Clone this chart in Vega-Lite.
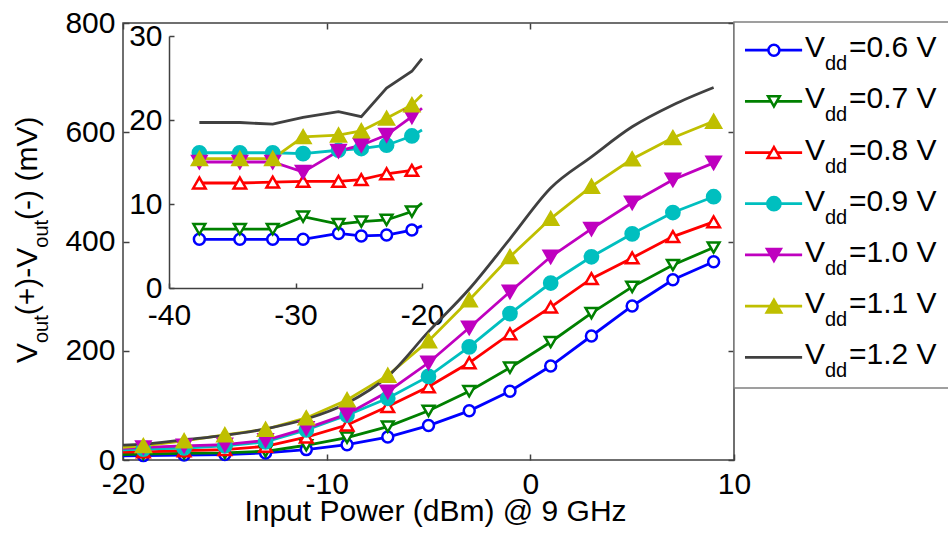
{
  "$schema": "https://vega.github.io/schema/vega-lite/v6.json",
  "width": 611,
  "height": 437,
  "autosize": {"type": "none"},
  "padding": {"left": 123, "top": 23, "right": 214, "bottom": 77},
  "config": {
    "view": {"stroke": "#404040", "strokeWidth": 1.5},
    "font": "Liberation Sans",
    "legend": {"disable": true},
    "axis": {
      "grid": false, "labelFont": "Liberation Sans", "labelFontSize": 30, "labelColor": "#000000",
      "tickColor": "#404040", "domainColor": "#404040", "tickWidth": 1.5, "domainWidth": 1.5,
      "titleFont": "Liberation Sans", "titleFontSize": 30, "titleFontWeight": "normal", "titleColor": "#000000",
      "labelFlush": false, "labelOverlap": false
    }
  },
  "datasets": {
    "d": [
      {"vdd": 0.6, "x": -37.6, "y": 5.8}, {"vdd": 0.6, "x": -34.4, "y": 5.8}, {"vdd": 0.6, "x": -31.8, "y": 5.8}, {"vdd": 0.6, "x": -29.4, "y": 5.8}, {"vdd": 0.6, "x": -26.6, "y": 6.5}, {"vdd": 0.6, "x": -24.8, "y": 6.2}, {"vdd": 0.6, "x": -22.8, "y": 6.3}, {"vdd": 0.6, "x": -20.8, "y": 6.9}, {"vdd": 0.6, "x": -20, "y": 7.4},
      {"vdd": 0.6, "x": -19, "y": 8}, {"vdd": 0.6, "x": -17, "y": 9}, {"vdd": 0.6, "x": -15, "y": 10}, {"vdd": 0.6, "x": -13, "y": 13}, {"vdd": 0.6, "x": -11, "y": 19}, {"vdd": 0.6, "x": -9, "y": 28}, {"vdd": 0.6, "x": -7, "y": 42}, {"vdd": 0.6, "x": -5, "y": 63}, {"vdd": 0.6, "x": -3, "y": 90}, {"vdd": 0.6, "x": -1, "y": 126}, {"vdd": 0.6, "x": 1, "y": 172}, {"vdd": 0.6, "x": 3, "y": 227}, {"vdd": 0.6, "x": 5, "y": 282}, {"vdd": 0.6, "x": 7, "y": 330}, {"vdd": 0.6, "x": 9, "y": 363},
      {"vdd": 0.7, "x": -37.6, "y": 7.0}, {"vdd": 0.7, "x": -34.4, "y": 7.0}, {"vdd": 0.7, "x": -31.8, "y": 7.0}, {"vdd": 0.7, "x": -29.4, "y": 8.5}, {"vdd": 0.7, "x": -26.6, "y": 7.6}, {"vdd": 0.7, "x": -24.8, "y": 7.9}, {"vdd": 0.7, "x": -22.8, "y": 8.1}, {"vdd": 0.7, "x": -20.8, "y": 9.1}, {"vdd": 0.7, "x": -20, "y": 10.1},
      {"vdd": 0.7, "x": -19, "y": 11}, {"vdd": 0.7, "x": -17, "y": 12}, {"vdd": 0.7, "x": -15, "y": 13}, {"vdd": 0.7, "x": -13, "y": 16}, {"vdd": 0.7, "x": -11, "y": 27}, {"vdd": 0.7, "x": -9, "y": 41}, {"vdd": 0.7, "x": -7, "y": 61}, {"vdd": 0.7, "x": -5, "y": 90}, {"vdd": 0.7, "x": -3, "y": 126}, {"vdd": 0.7, "x": -1, "y": 169}, {"vdd": 0.7, "x": 1, "y": 216}, {"vdd": 0.7, "x": 3, "y": 269}, {"vdd": 0.7, "x": 5, "y": 317}, {"vdd": 0.7, "x": 7, "y": 357}, {"vdd": 0.7, "x": 9, "y": 389},
      {"vdd": 0.8, "x": -37.6, "y": 12.5}, {"vdd": 0.8, "x": -34.4, "y": 12.5}, {"vdd": 0.8, "x": -31.8, "y": 12.6}, {"vdd": 0.8, "x": -29.4, "y": 12.7}, {"vdd": 0.8, "x": -26.6, "y": 12.7}, {"vdd": 0.8, "x": -24.8, "y": 12.9}, {"vdd": 0.8, "x": -22.8, "y": 13.6}, {"vdd": 0.8, "x": -20.8, "y": 14.0}, {"vdd": 0.8, "x": -20, "y": 14.5},
      {"vdd": 0.8, "x": -19, "y": 15}, {"vdd": 0.8, "x": -17, "y": 17}, {"vdd": 0.8, "x": -15, "y": 19}, {"vdd": 0.8, "x": -13, "y": 25}, {"vdd": 0.8, "x": -11, "y": 42}, {"vdd": 0.8, "x": -9, "y": 64}, {"vdd": 0.8, "x": -7, "y": 98}, {"vdd": 0.8, "x": -5, "y": 134}, {"vdd": 0.8, "x": -3, "y": 178}, {"vdd": 0.8, "x": -1, "y": 231}, {"vdd": 0.8, "x": 1, "y": 280}, {"vdd": 0.8, "x": 3, "y": 332}, {"vdd": 0.8, "x": 5, "y": 370}, {"vdd": 0.8, "x": 7, "y": 409}, {"vdd": 0.8, "x": 9, "y": 436},
      {"vdd": 0.9, "x": -37.6, "y": 16.1}, {"vdd": 0.9, "x": -34.4, "y": 16.1}, {"vdd": 0.9, "x": -31.8, "y": 16.1}, {"vdd": 0.9, "x": -29.4, "y": 16.0}, {"vdd": 0.9, "x": -26.6, "y": 16.4}, {"vdd": 0.9, "x": -24.8, "y": 16.6}, {"vdd": 0.9, "x": -22.8, "y": 17.0}, {"vdd": 0.9, "x": -20.8, "y": 18.1}, {"vdd": 0.9, "x": -20, "y": 18.8},
      {"vdd": 0.9, "x": -19, "y": 20}, {"vdd": 0.9, "x": -17, "y": 22}, {"vdd": 0.9, "x": -15, "y": 26}, {"vdd": 0.9, "x": -13, "y": 33}, {"vdd": 0.9, "x": -11, "y": 55}, {"vdd": 0.9, "x": -9, "y": 82}, {"vdd": 0.9, "x": -7, "y": 113}, {"vdd": 0.9, "x": -5, "y": 153}, {"vdd": 0.9, "x": -3, "y": 207}, {"vdd": 0.9, "x": -1, "y": 268}, {"vdd": 0.9, "x": 1, "y": 324}, {"vdd": 0.9, "x": 3, "y": 372}, {"vdd": 0.9, "x": 5, "y": 414}, {"vdd": 0.9, "x": 7, "y": 453}, {"vdd": 0.9, "x": 9, "y": 482},
      {"vdd": 1.0, "x": -37.6, "y": 15.0}, {"vdd": 1.0, "x": -34.4, "y": 15.0}, {"vdd": 1.0, "x": -31.8, "y": 15.0}, {"vdd": 1.0, "x": -29.4, "y": 13.8}, {"vdd": 1.0, "x": -26.6, "y": 16.3}, {"vdd": 1.0, "x": -24.8, "y": 17.0}, {"vdd": 1.0, "x": -22.8, "y": 18.2}, {"vdd": 1.0, "x": -20.8, "y": 20.4}, {"vdd": 1.0, "x": -20, "y": 21.4},
      {"vdd": 1.0, "x": -19, "y": 23}, {"vdd": 1.0, "x": -17, "y": 26}, {"vdd": 1.0, "x": -15, "y": 28}, {"vdd": 1.0, "x": -13, "y": 36}, {"vdd": 1.0, "x": -11, "y": 58}, {"vdd": 1.0, "x": -9, "y": 84}, {"vdd": 1.0, "x": -7, "y": 125}, {"vdd": 1.0, "x": -5, "y": 178}, {"vdd": 1.0, "x": -3, "y": 242}, {"vdd": 1.0, "x": -1, "y": 308}, {"vdd": 1.0, "x": 1, "y": 372}, {"vdd": 1.0, "x": 3, "y": 423}, {"vdd": 1.0, "x": 5, "y": 471}, {"vdd": 1.0, "x": 7, "y": 513}, {"vdd": 1.0, "x": 9, "y": 544},
      {"vdd": 1.1, "x": -37.6, "y": 15.4}, {"vdd": 1.1, "x": -34.4, "y": 15.4}, {"vdd": 1.1, "x": -31.8, "y": 15.4}, {"vdd": 1.1, "x": -29.4, "y": 18.0}, {"vdd": 1.1, "x": -26.6, "y": 18.2}, {"vdd": 1.1, "x": -24.8, "y": 18.7}, {"vdd": 1.1, "x": -22.8, "y": 20.2}, {"vdd": 1.1, "x": -20.8, "y": 21.8}, {"vdd": 1.1, "x": -20, "y": 23.0},
      {"vdd": 1.1, "x": -19, "y": 26}, {"vdd": 1.1, "x": -17, "y": 35}, {"vdd": 1.1, "x": -15, "y": 46}, {"vdd": 1.1, "x": -13, "y": 56}, {"vdd": 1.1, "x": -11, "y": 77}, {"vdd": 1.1, "x": -9, "y": 110}, {"vdd": 1.1, "x": -7, "y": 155}, {"vdd": 1.1, "x": -5, "y": 218}, {"vdd": 1.1, "x": -3, "y": 293}, {"vdd": 1.1, "x": -1, "y": 372}, {"vdd": 1.1, "x": 1, "y": 442}, {"vdd": 1.1, "x": 3, "y": 501}, {"vdd": 1.1, "x": 5, "y": 551}, {"vdd": 1.1, "x": 7, "y": 590}, {"vdd": 1.1, "x": 9, "y": 620},
      {"vdd": 1.2, "x": -37.6, "y": 19.7}, {"vdd": 1.2, "x": -34.4, "y": 19.7}, {"vdd": 1.2, "x": -31.8, "y": 19.5}, {"vdd": 1.2, "x": -29.4, "y": 20.3}, {"vdd": 1.2, "x": -26.6, "y": 21.0}, {"vdd": 1.2, "x": -24.8, "y": 20.4}, {"vdd": 1.2, "x": -22.8, "y": 23.8}, {"vdd": 1.2, "x": -20.8, "y": 25.8}, {"vdd": 1.2, "x": -20, "y": 27.3},
      {"vdd": 1.2, "x": -19, "y": 29}, {"vdd": 1.2, "x": -17, "y": 37}, {"vdd": 1.2, "x": -15, "y": 45}, {"vdd": 1.2, "x": -13, "y": 57}, {"vdd": 1.2, "x": -11, "y": 75}, {"vdd": 1.2, "x": -9, "y": 104}, {"vdd": 1.2, "x": -7, "y": 153}, {"vdd": 1.2, "x": -5, "y": 235}, {"vdd": 1.2, "x": -3, "y": 313}, {"vdd": 1.2, "x": -1, "y": 405}, {"vdd": 1.2, "x": 1, "y": 498}, {"vdd": 1.2, "x": 3, "y": 555}, {"vdd": 1.2, "x": 5, "y": 610}, {"vdd": 1.2, "x": 7, "y": 650}, {"vdd": 1.2, "x": 9, "y": 682}
    ],
    "s": [
      {"vdd": 0.6, "label": "=0.6 V"}, {"vdd": 0.7, "label": "=0.7 V"}, {"vdd": 0.8, "label": "=0.8 V"}, {"vdd": 0.9, "label": "=0.9 V"}, {"vdd": 1.0, "label": "=1.0 V"}, {"vdd": 1.1, "label": "=1.1 V"}, {"vdd": 1.2, "label": "=1.2 V"}
    ]
  },
  "resolve": {"scale": {"x": "independent", "y": "independent"}},
  "layer": [
    {
      "data": {"name": "d"},
      "transform": [{"filter": "datum.x >= -20"}],
      "mark": {"type": "point", "opacity": 0},
      "encoding": {
        "x": {"field": "x", "type": "quantitative", "scale": {"domain": [-20, 10], "nice": false, "zero": false},
              "axis": {"orient": "bottom", "values": [-20, -10, 0, 10], "tickSize": -6, "labelPadding": 15, "domain": false,
                       "labelExpr": "'' + datum.value", "title": "Input Power (dBm) @ 9 GHz", "titleX": 312, "titleY": 60,
                       "titleBaseline": "alphabetic", "titleAlign": "center"}},
        "y": {"field": "y", "type": "quantitative", "scale": {"domain": [0, 800], "nice": false, "zero": false},
              "axis": {"orient": "left", "values": [0, 200, 400, 600, 800], "tickSize": -6, "labelPadding": 14, "domain": false, "title": null}}
      }
    },
    {
      "data": {"name": "d"},
      "transform": [{"filter": "datum.x >= -20"}],
      "mark": {"type": "point", "opacity": 0},
      "encoding": {
        "x": {"field": "x", "type": "quantitative", "scale": {"domain": [-20, 10], "nice": false, "zero": false},
              "axis": {"orient": "top", "values": [-20, -10, 0, 10], "labels": false, "tickSize": -6, "domain": false, "title": null}},
        "y": {"field": "y", "type": "quantitative", "scale": {"domain": [0, 800], "nice": false, "zero": false},
              "axis": {"orient": "right", "values": [0, 200, 400, 600, 800], "labels": false, "tickSize": -6, "domain": false, "title": null}}
      }
    },
    {
      "data": {"name": "d"},
      "transform": [{"filter": "datum.x <= -20"}],
      "mark": {"type": "point", "opacity": 0},
      "encoding": {
        "x": {"field": "x", "type": "quantitative", "scale": {"domain": [-40, -20], "range": [46, 299], "nice": false, "zero": false},
              "axis": {"orient": "bottom", "offset": -172, "values": [-40, -30, -20], "tickSize": -5, "labelPadding": 17, "domain": true,
                       "labelExpr": "'' + datum.value", "title": null}},
        "y": {"field": "y", "type": "quantitative", "scale": {"domain": [0, 30], "range": [265, 13], "nice": false, "zero": false},
              "axis": {"orient": "left", "offset": -46, "values": [0, 10, 20, 30], "tickSize": -5, "labelPadding": 12, "domain": true, "title": null}}
      }
    },
    {
      "data": {"name": "d"},
      "layer": [
        {
          "transform": [{"filter": "datum.x >= -20 && datum.vdd < 1.15"}],
          "mark": {"type": "line", "strokeWidth": 2.8},
          "encoding": {
            "x": {"field": "x", "type": "quantitative", "scale": {"domain": [-20, 10], "nice": false, "zero": false}, "axis": null},
            "y": {"field": "y", "type": "quantitative", "scale": {"domain": [0, 800], "nice": false, "zero": false}, "axis": null},
            "stroke": {"field": "vdd", "type": "nominal", "scale": {"domain": [0.6, 0.7, 0.8, 0.9, 1.0, 1.1, 1.2], "range": ["#0000FF", "#008000", "#FF0000", "#00BFBF", "#BF00BF", "#BFBF00", "#404040"]}}
          }
        },
        {
          "transform": [{"filter": "datum.x >= -20 && datum.vdd > 1.15"}],
          "mark": {"type": "line", "strokeWidth": 2.8, "interpolate": "monotone"},
          "encoding": {
            "x": {"field": "x", "type": "quantitative", "axis": null},
            "y": {"field": "y", "type": "quantitative", "axis": null},
            "stroke": {"field": "vdd", "type": "nominal"}
          }
        },
        {
          "transform": [{"filter": "datum.x >= -19 && datum.vdd < 1.15"}],
          "mark": {"type": "point", "strokeWidth": 2.5, "opacity": 1},
          "encoding": {
            "x": {"field": "x", "type": "quantitative", "axis": null},
            "y": {"field": "y", "type": "quantitative", "axis": null},
            "stroke": {"field": "vdd", "type": "nominal"},
            "fill": {"field": "vdd", "type": "nominal", "scale": {"domain": [0.6, 0.7, 0.8, 0.9, 1.0, 1.1, 1.2], "range": ["#FFFFFF", "#FFFFFF", "#FFFFFF", "#00BFBF", "#BF00BF", "#BFBF00", "#404040"]}},
            "shape": {"field": "vdd", "type": "nominal", "scale": {"domain": [0.6, 0.7, 0.8, 0.9, 1.0, 1.1, 1.2], "range": ["circle", "triangle-down", "triangle-up", "circle", "triangle-down", "triangle-up", "circle"]}},
            "size": {"field": "vdd", "type": "ordinal", "scale": {"domain": [0.6, 0.7, 0.8, 0.9, 1.0, 1.1, 1.2], "range": [120, 230, 230, 140, 230, 230, 10]}}
          }
        },
        {
          "data": {"values": [{}]},
          "mark": {"type": "text", "text": "V", "angle": 270, "align": "left", "baseline": "alphabetic", "fontSize": 30, "dx": -121.5, "dy": -86},
          "encoding": {"x": {"datum": -20, "type": "quantitative", "axis": null}, "y": {"datum": 400, "type": "quantitative", "axis": null}}
        },
        {
          "data": {"values": [{}]},
          "mark": {"type": "text", "text": "out", "angle": 270, "align": "left", "baseline": "alphabetic", "fontSize": 20, "dx": -101.5, "dy": -75},
          "encoding": {"x": {"datum": -20, "type": "quantitative", "axis": null}, "y": {"datum": 400, "type": "quantitative", "axis": null}}
        },
        {
          "data": {"values": [{}]},
          "mark": {"type": "text", "text": "(+)-V", "angle": 270, "align": "left", "baseline": "alphabetic", "fontSize": 30, "dx": -73.7, "dy": -86},
          "encoding": {"x": {"datum": -20, "type": "quantitative", "axis": null}, "y": {"datum": 400, "type": "quantitative", "axis": null}}
        },
        {
          "data": {"values": [{}]},
          "mark": {"type": "text", "text": "out", "angle": 270, "align": "left", "baseline": "alphabetic", "fontSize": 20, "dx": -6.2, "dy": -75},
          "encoding": {"x": {"datum": -20, "type": "quantitative", "axis": null}, "y": {"datum": 400, "type": "quantitative", "axis": null}}
        },
        {
          "data": {"values": [{}]},
          "mark": {"type": "text", "text": "(-) (mV)", "angle": 270, "align": "left", "baseline": "alphabetic", "fontSize": 30, "dx": 21.6, "dy": -86},
          "encoding": {"x": {"datum": -20, "type": "quantitative", "axis": null}, "y": {"datum": 400, "type": "quantitative", "axis": null}}
        }
      ]
    },
    {
      "data": {"name": "d"},
      "layer": [
        {
          "transform": [{"filter": "datum.x <= -20"}],
          "mark": {"type": "line", "strokeWidth": 2.8},
          "encoding": {
            "x": {"field": "x", "type": "quantitative", "scale": {"domain": [-40, -20], "range": [46, 299], "nice": false, "zero": false}, "axis": null},
            "y": {"field": "y", "type": "quantitative", "scale": {"domain": [0, 30], "range": [265, 13], "nice": false, "zero": false}, "axis": null},
            "stroke": {"field": "vdd", "type": "nominal"}
          }
        },
        {
          "transform": [{"filter": "datum.x < -20 && datum.vdd < 1.15"}],
          "mark": {"type": "point", "strokeWidth": 2.5, "opacity": 1},
          "encoding": {
            "x": {"field": "x", "type": "quantitative", "axis": null},
            "y": {"field": "y", "type": "quantitative", "axis": null},
            "stroke": {"field": "vdd", "type": "nominal"},
            "fill": {"field": "vdd", "type": "nominal"},
            "shape": {"field": "vdd", "type": "nominal"},
            "size": {"field": "vdd", "type": "ordinal"}
          }
        }
      ]
    },
    {
      "layer": [
        {
          "data": {"values": [{}]},
          "mark": {"type": "rect", "fill": "#FFFFFF", "stroke": "#808080", "strokeWidth": 1.5},
          "encoding": {
            "x": {"datum": 0, "type": "quantitative", "scale": {"domain": [0, 1], "range": [611, 850], "nice": false, "zero": false}, "axis": null},
            "x2": {"datum": 1},
            "y": {"datum": 0.545, "type": "quantitative", "scale": {"domain": [0.545, 1.26], "range": [-1, 365], "nice": false, "zero": false}, "axis": null},
            "y2": {"datum": 1.26}
          }
        },
        {
          "data": {"name": "s"},
          "mark": {"type": "rule", "strokeWidth": 2.8},
          "encoding": {
            "x": {"datum": 0.046, "type": "quantitative", "axis": null},
            "x2": {"datum": 0.285},
            "y": {"field": "vdd", "type": "quantitative", "axis": null},
            "stroke": {"field": "vdd", "type": "nominal"}
          }
        },
        {
          "data": {"name": "s"},
          "transform": [{"filter": "datum.vdd < 1.15"}],
          "mark": {"type": "point", "strokeWidth": 2.5, "opacity": 1},
          "encoding": {
            "x": {"datum": 0.167, "type": "quantitative", "axis": null},
            "y": {"field": "vdd", "type": "quantitative", "axis": null},
            "stroke": {"field": "vdd", "type": "nominal"},
            "fill": {"field": "vdd", "type": "nominal"},
            "shape": {"field": "vdd", "type": "nominal"},
            "size": {"field": "vdd", "type": "ordinal"}
          }
        },
        {
          "data": {"name": "s"},
          "mark": {"type": "text", "text": "V", "align": "left", "baseline": "alphabetic", "fontSize": 30, "dx": 71, "dy": 7},
          "encoding": {
            "x": {"datum": 0, "type": "quantitative", "axis": null},
            "y": {"field": "vdd", "type": "quantitative", "axis": null}
          }
        },
        {
          "data": {"name": "s"},
          "mark": {"type": "text", "text": "dd", "align": "left", "baseline": "alphabetic", "fontSize": 20, "dx": 91, "dy": 20},
          "encoding": {
            "x": {"datum": 0, "type": "quantitative", "axis": null},
            "y": {"field": "vdd", "type": "quantitative", "axis": null}
          }
        },
        {
          "data": {"name": "s"},
          "mark": {"type": "text", "align": "left", "baseline": "alphabetic", "fontSize": 30, "dx": 115, "dy": 7},
          "encoding": {
            "x": {"datum": 0, "type": "quantitative", "axis": null},
            "y": {"field": "vdd", "type": "quantitative", "axis": null},
            "text": {"field": "label", "type": "nominal"}
          }
        }
      ]
    }
  ]
}
